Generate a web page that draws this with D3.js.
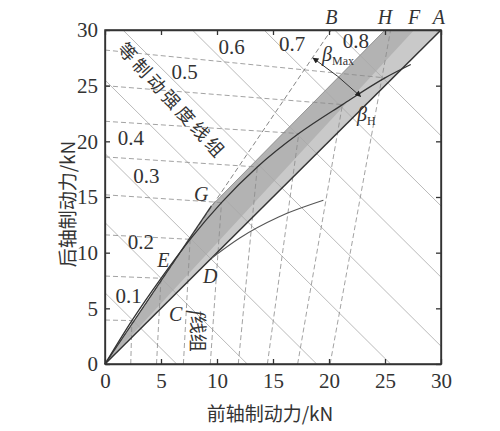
<!DOCTYPE html>
<html>
<head>
<meta charset="utf-8">
<script src="https://cdnjs.cloudflare.com/ajax/libs/d3/7.8.5/d3.min.js"></script>
<style>
  body { margin: 0; background: #fff; }
  svg { display: block; }
  .axis text { font-family: "Liberation Serif", serif; font-size: 21px; fill: #333; }
  .axis path, .axis line { stroke: #333; stroke-width: 1.3; }
  .axis-title { font-family: "Noto Sans CJK SC", sans-serif; font-size: 19px; fill: #333; }
  .z-label { font-family: "Liberation Serif", serif; font-size: 21px; fill: #333; }
  .pt-label { font-family: "Liberation Serif", serif; font-style: italic; font-size: 20px; fill: #333; }
  .cn-label { font-family: "Noto Sans CJK SC", sans-serif; font-size: 18px; fill: #333; }
</style>
</head>
<body>
<svg id="chart"></svg>
<script>
const X_TICKS = [0, 5, 10, 15, 20, 25, 30];
const Y_TICKS = [0, 5, 10, 15, 20, 25, 30];

// braking strength z of each line group
const Z_VALUES = ["0.1", "0.2", "0.3", "0.4", "0.5", "0.6", "0.7", "0.8"];
// equal braking strength lines: front + rear = sum (kN)
const STRENGTH_SUMS = [6.4, 12.7, 18.9, 25.5, 31.6, 37.8, 44.2, 50.5];
// r lines start on the rear axis (kN), f lines start on the front axis (kN)
const R_STARTS = [3.95, 7.9, 11.6, 15.2, 18.6, 21.8, 25.0, 28.2];
const F_STARTS = [2.3, 4.6, 7.0, 9.4, 11.9, 14.5, 17.2, 20.1];

// ideal distribution curve, front/rear (kN)
const I_FRONT = [0, 2.4, 5.0, 7.6, 10.4, 13.6, 17.3, 21.2, 25.0, 27.3];
const I_REAR  = [0, 3.9, 7.7, 11.2, 14.5, 17.7, 20.7, 23.3, 25.7, 26.9];

// bent line after point D
const KNEE_FRONT = [9.5, 12.0, 15.5, 19.5];
const KNEE_REAR  = [9.5, 11.3, 13.2, 14.7];

// named points
const PT = {O: [0, 0], G: [9.5, 14.2], B: [20.2, 30], H: [25, 30], F: [27.6, 30], A: [30, 30]};

const W = 500, H = 431;
const PLOT = {left: 105, right: 441, top: 30, bottom: 364};

let x = d3.scaleLinear().domain([0, 30]).range([PLOT.left, PLOT.right]);
let y = d3.scaleLinear().domain([0, 30]).range([PLOT.bottom, PLOT.top]);

let svg = d3.select("#chart").attr("width", W).attr("height", H);

let line = d3.line().x(d => x(d[0])).y(d => y(d[1]));
let curve = d3.line().x(d => x(d[0])).y(d => y(d[1])).curve(d3.curveMonotoneX);

let iCurve = I_FRONT.map((f, i) => [f, I_REAR[i]]);
let knee = KNEE_FRONT.map((f, i) => [f, KNEE_REAR[i]]);

/*
  Shaded band between the beta lines.
*/
svg.append("path")
   .attr("d", line([PT.O, PT.G, PT.H, PT.A]) + "Z")
   .attr("fill", "#c9c9c9");

svg.append("path")
   .attr("d", line([PT.O, PT.G, PT.H, PT.F]) + "Z")
   .attr("fill", "#b3b3b3");

/*
  Equal braking strength lines, clipped to the square.
*/
svg.append("g")
   .selectAll("line")
   .data(STRENGTH_SUMS).enter()
   .append("line")
   .attr("x1", s => x(Math.max(0, s - 30)))
   .attr("y1", s => y(Math.min(30, s)))
   .attr("x2", s => x(Math.min(30, s)))
   .attr("y2", s => y(Math.max(0, s - 30)))
   .attr("stroke", "#a8a8a8")
   .attr("stroke-width", 0.8);

/*
  r lines (near horizontal) and f lines (near vertical) end on the I curve.
*/
svg.append("g")
   .selectAll("line")
   .data(R_STARTS).enter()
   .append("line")
   .attr("x1", x(0))
   .attr("y1", d => y(d))
   .attr("x2", (d, i) => x(iCurve[i + 1][0]))
   .attr("y2", (d, i) => y(iCurve[i + 1][1]))
   .attr("stroke", "#8a8a8a")
   .attr("stroke-width", 0.8)
   .attr("stroke-dasharray", "5,3");

svg.append("g")
   .selectAll("line")
   .data(F_STARTS).enter()
   .append("line")
   .attr("x1", d => x(d))
   .attr("y1", y(0))
   .attr("x2", (d, i) => i == F_STARTS.length - 1 ? x(PT.H[0] + 0.5) : x(iCurve[i + 1][0]))
   .attr("y2", (d, i) => i == F_STARTS.length - 1 ? y(30) : y(iCurve[i + 1][1]))
   .attr("stroke", "#8a8a8a")
   .attr("stroke-width", 0.8)
   .attr("stroke-dasharray", "5,3");

/*
  Beta lines and curves.
*/
svg.append("path")
   .attr("d", line([PT.O, PT.B]))
   .attr("fill", "none")
   .attr("stroke", "#777")
   .attr("stroke-width", 0.9)
   .attr("stroke-dasharray", "5,3");

svg.append("path")
   .attr("d", line([PT.G, PT.H]))
   .attr("fill", "none")
   .attr("stroke", "#888")
   .attr("stroke-width", 0.8);

svg.append("path")
   .attr("d", line([PT.O, PT.G]))
   .attr("fill", "none")
   .attr("stroke", "#3a3a3a")
   .attr("stroke-width", 1.3);

svg.append("path")
   .attr("d", line([PT.O, PT.A]))
   .attr("fill", "none")
   .attr("stroke", "#333")
   .attr("stroke-width", 1.5);

svg.append("path")
   .attr("d", curve(iCurve))
   .attr("fill", "none")
   .attr("stroke", "#333")
   .attr("stroke-width", 1.3);

svg.append("path")
   .attr("d", curve(knee))
   .attr("fill", "none")
   .attr("stroke", "#555")
   .attr("stroke-width", 1.1);

/*
  Frame and inward ticks on all four sides.
*/
svg.append("rect")
   .attr("x", PLOT.left).attr("y", PLOT.top)
   .attr("width", PLOT.right - PLOT.left).attr("height", PLOT.bottom - PLOT.top)
   .attr("fill", "none").attr("stroke", "#333").attr("stroke-width", 1.5);

svg.append("g").attr("class", "axis")
   .attr("transform", `translate(0,${PLOT.bottom})`)
   .call(d3.axisBottom(x).tickValues(X_TICKS).tickSize(-5).tickSizeOuter(0).tickPadding(9));

svg.append("g").attr("class", "axis")
   .attr("transform", `translate(${PLOT.left},0)`)
   .call(d3.axisLeft(y).tickValues(Y_TICKS).tickSize(-5).tickSizeOuter(0).tickPadding(7));

svg.append("g").attr("class", "axis")
   .attr("transform", `translate(0,${PLOT.top})`)
   .call(d3.axisTop(x).tickValues(X_TICKS).tickSize(-5).tickSizeOuter(0).tickFormat(""));

svg.append("g").attr("class", "axis")
   .attr("transform", `translate(${PLOT.right},0)`)
   .call(d3.axisRight(y).tickValues(Y_TICKS).tickSize(-5).tickSizeOuter(0).tickFormat(""));

/*
  Axis titles.
*/
svg.append("text")
   .attr("class", "axis-title")
   .attr("x", 270).attr("y", 421)
   .attr("text-anchor", "middle")
   .text("前轴制动力/kN");

svg.append("text")
   .attr("class", "axis-title")
   .attr("transform", "translate(75,204) rotate(-90)")
   .attr("text-anchor", "middle")
   .text("后轴制动力/kN");

/*
  Strength labels and point letters (positions in kN).
*/
const Z_LABEL_AT = [[2.1, 6.1], [3.2, 11.0], [3.7, 16.9], [2.3, 20.3], [7.1, 26.3], [11.3, 28.5], [16.7, 28.8], [22.4, 29.0]];

svg.append("g")
   .selectAll("text")
   .data(Z_VALUES).enter()
   .append("text")
   .attr("class", "z-label")
   .attr("x", (d, i) => x(Z_LABEL_AT[i][0]))
   .attr("y", (d, i) => y(Z_LABEL_AT[i][1]))
   .attr("dy", "0.35em")
   .attr("text-anchor", "middle")
   .text(d => d);

const LETTERS = [["E", 5.2, 9.3], ["G", 8.6, 15.3], ["D", 9.4, 7.9], ["C", 6.3, 4.5]];
svg.append("g")
   .selectAll("text")
   .data(LETTERS).enter()
   .append("text")
   .attr("class", "pt-label")
   .attr("x", d => x(d[1]))
   .attr("y", d => y(d[2]))
   .attr("dy", "0.35em")
   .attr("text-anchor", "middle")
   .text(d => d[0]);

const TOP_LETTERS = [["B", PT.B[0]], ["H", PT.H[0]], ["F", PT.F[0]], ["A", PT.A[0] - 0.2]];
svg.append("g")
   .selectAll("text")
   .data(TOP_LETTERS).enter()
   .append("text")
   .attr("class", "pt-label")
   .attr("x", d => x(d[1]))
   .attr("y", PLOT.top - 6)
   .attr("text-anchor", "middle")
   .text(d => d[0]);

let betaMax = svg.append("text").attr("class", "pt-label")
                 .attr("x", 322).attr("y", 61);
betaMax.append("tspan").text("β");
betaMax.append("tspan").attr("font-size", "12px").attr("font-style", "normal").attr("dy", 4).text("Max");

let betaH = svg.append("text").attr("class", "pt-label")
               .attr("x", 357).attr("y", 121);
betaH.append("tspan").text("β");
betaH.append("tspan").attr("font-size", "12px").attr("font-style", "normal").attr("dy", 4).text("H");

svg.append("text")
   .attr("class", "cn-label")
   .attr("transform", "translate(172,101) rotate(47.5)")
   .attr("text-anchor", "middle")
   .attr("dy", "0.35em")
   .attr("letter-spacing", "3.5px")
   .text("等制动强度线组");

let fGroup = svg.append("text")
                .attr("class", "cn-label")
                .attr("transform", "translate(197,331) rotate(90)")
                .attr("text-anchor", "middle")
                .attr("dy", "0.35em");
fGroup.append("tspan").attr("font-family", "Liberation Serif, serif").attr("font-style", "italic").attr("font-size", "20px").text("f");
fGroup.append("tspan").text("线组");

/*
  Arc from beta max to beta H, centered on the origin.
*/
svg.append("defs").append("marker")
   .attr("id", "head")
   .attr("viewBox", "0 0 10 10")
   .attr("refX", 9).attr("refY", 5)
   .attr("markerWidth", 10).attr("markerHeight", 6)
   .attr("markerUnits", "userSpaceOnUse")
   .attr("orient", "auto-start-reverse")
   .append("path")
   .attr("d", "M0,0 L10,5 L0,10 Z")
   .attr("fill", "#222");

const R_ARC = 370;
const a0 = 55.8 * Math.PI / 180, a1 = 46.3 * Math.PI / 180;
let arc = d3.path();
arc.moveTo(x(0) + R_ARC * Math.cos(a0), y(0) - R_ARC * Math.sin(a0));
arc.arc(x(0), y(0), R_ARC, -a0, -a1, false);

svg.append("path")
   .attr("d", arc.toString())
   .attr("fill", "none")
   .attr("stroke", "#333")
   .attr("stroke-width", 1)
   .attr("marker-start", "url(#head)")
   .attr("marker-end", "url(#head)");
</script>
</body>
</html>
